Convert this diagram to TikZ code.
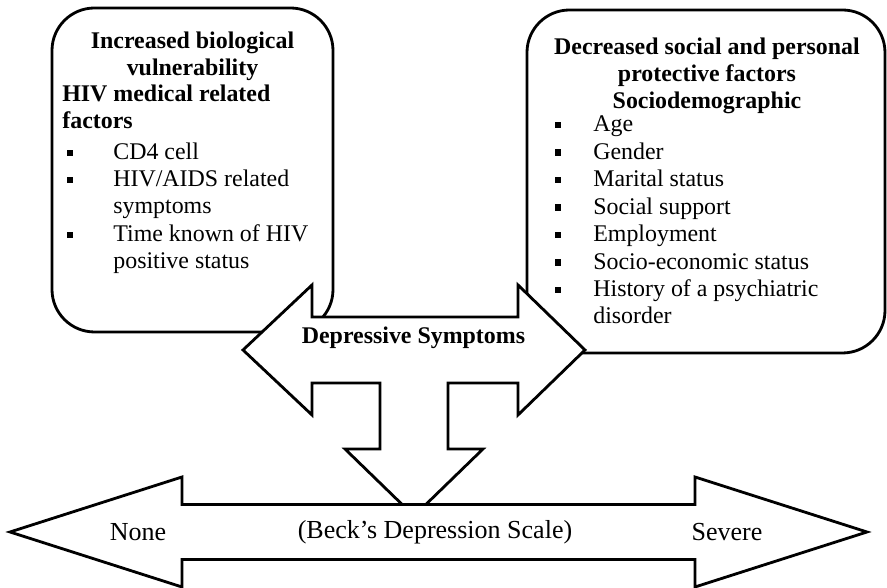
\documentclass[tikz,border=0pt]{standalone}
\usepackage{fontspec}
\setmainfont{Liberation Serif}
\usepackage{tikz}
\usetikzlibrary{positioning}

\begin{document}
\begin{tikzpicture}[
  factorbox/.style={draw, line width=1.6pt, rounded corners=0.85cm, inner sep=0pt},
  bigarrow/.style={draw, fill=white, line width=1.6pt, line join=miter},
  hd/.style={font=\fontsize{13.6}{15.4}\selectfont\bfseries, inner sep=0pt},
  itm/.style={font=\fontsize{13.6}{15.4}\selectfont, anchor=base west, align=left, inner sep=0pt},
  bul/.style={fill=black, minimum size=0.13cm, inner sep=0pt},
  scaletext/.style={font=\fontsize{14.8}{17}\selectfont, inner sep=0pt}
]
\useasboundingbox (0,0) rectangle (17.74,11.76);

% the two factor boxes
\node[factorbox, minimum width=5.62cm, minimum height=6.48cm] (bio) at (3.85, 8.36) {};
\node[factorbox, minimum width=7.16cm, minimum height=6.86cm] (soc) at (14.12, 8.13) {};

% depressive symptoms arrow with the arrow down to the scale
\draw[bigarrow] (4.86,4.76) -- (6.24,6.06) -- (6.24,5.42) -- (10.36,5.42) -- (10.36,6.06)
  -- (11.7,4.76) -- (10.36,3.46) -- (10.36,4.1) -- (8.96,4.1) -- (8.96,2.78) -- (9.66,2.78)
  -- (8.28,1.44) -- (6.9,2.78) -- (7.6,2.78) -- (7.6,4.1) -- (6.24,4.1) -- (6.24,3.46) -- cycle;

% scale arrow
\draw[bigarrow] (0.2,1.12) -- (3.64,2.22) -- (3.64,1.67) -- (13.9,1.67) -- (13.9,2.22)
  -- (17.34,1.12) -- (13.9,0.02) -- (13.9,0.57) -- (3.64,0.57) -- (3.64,0.02) -- cycle;

% left box text (base = baseline of the last line)
\node[hd, align=center, anchor=base] (biohd) at (3.85, 10.24) {Increased biological\\vulnerability};
\node[hd, align=left, anchor=base west] (hivhd) at (1.24, 9.18) {HIV medical related\\factors};
\node[bul] (bb1) at (1.4, 8.7) {};
\node[itm] (bi1) at (2.26, 8.56) {CD4 cell};
\node[bul] (bb2) at (1.4, 8.16) {};
\node[itm] (bi2) at (2.26, 7.48) {HIV/AIDS related\\symptoms};
\node[bul] (bb3) at (1.4, 7.06) {};
\node[itm] (bi3) at (2.26, 6.38) {Time known of HIV\\positive status};

% right box text
\node[hd, align=center, anchor=base] (sochd) at (14.14, 9.58) {Decreased social and personal\\protective factors\\Sociodemographic};
\foreach \y/\t [count=\i] in {9.12/Age, 8.57/Gender, 8.02/Marital status, 7.47/Social support,
    6.92/Employment, 6.37/Socio-economic status}
{
  \node[bul] (sb\i) at (11.16, \y+0.14) {};
  \node[itm] (si\i) at (11.86, \y) {\t};
}
\node[bul] (sb7) at (11.16, 5.96) {};
\node[itm] (si7) at (11.86, 5.28) {History of a psychiatric\\disorder};

% arrow labels
\node[hd] (dep) at (8.27, 5.0) {Depressive Symptoms};
\node[scaletext] (none) at (2.76, 1.12) {None};
\node[scaletext] (beck) at (8.7, 1.12) {(Beck’s Depression Scale)};
\node[scaletext] (sev) at (14.54, 1.12) {Severe};
\end{tikzpicture}
\end{document}
